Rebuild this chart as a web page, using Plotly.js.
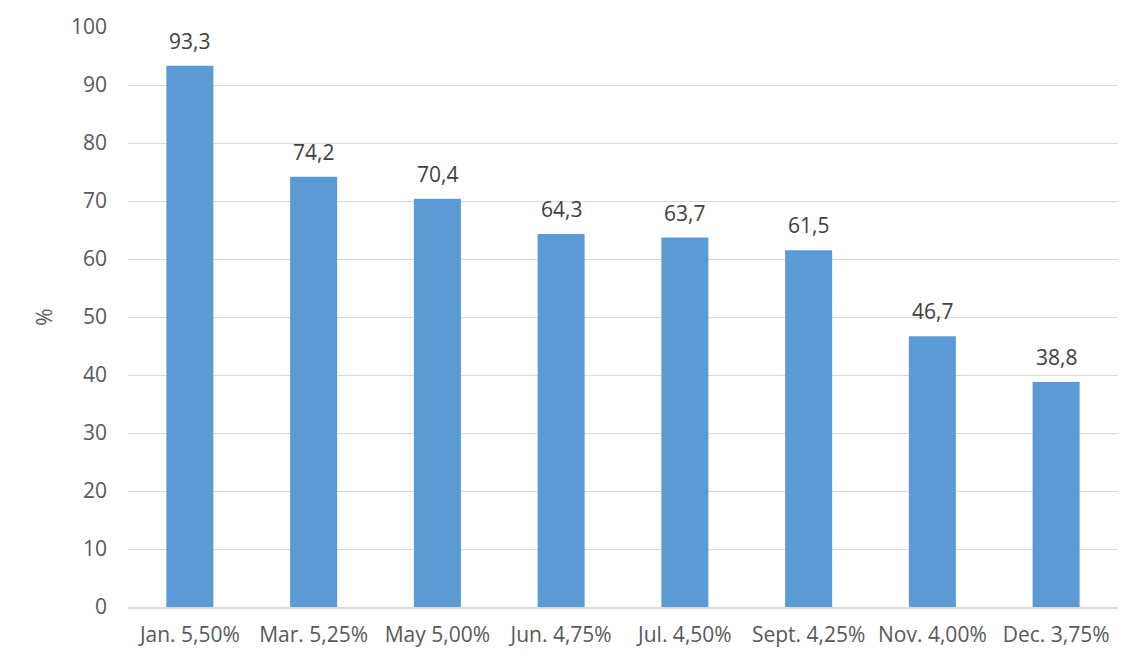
<!DOCTYPE html>
<html>
<head>
<meta charset="utf-8">
<script src="https://cdn.plot.ly/plotly-3.0.1.min.js"></script>
<style>html,body{margin:0;padding:0;background:#fff;}#chart{width:1144px;height:667px;}</style>
</head>
<body>
<div id="chart"></div>
<script>
const categories = ["Jan. 5,50%", "Mar. 5,25%", "May 5,00%", "Jun. 4,75%", "Jul. 4,50%", "Sept. 4,25%", "Nov. 4,00%", "Dec. 3,75%"];
const values = [93.3, 74.2, 70.4, 64.3, 63.7, 61.5, 46.7, 38.8];
const valueLabels = values.map(v => v.toFixed(1).replace('.', ','));
const yTicks = [0, 10, 20, 30, 40, 50, 60, 70, 80, 90, 100];

const font = {family: "'Open Sans', sans-serif", size: 21, color: "#595959"};

const annotations = categories.map((c, i) => ({
  x: c, y: values[i], text: valueLabels[i], showarrow: false,
  xanchor: 'center', yanchor: 'bottom', yshift: 9,
  font: {family: font.family, size: 21, color: '#404040'}
}));

Plotly.newPlot('chart', [{
  type: 'bar',
  x: categories,
  y: values,
  marker: {color: '#5B9BD5'},
  width: 0.38,
  hoverinfo: 'none'
}], {
  width: 1144, height: 667,
  margin: {l: 128, r: 26, t: 27, b: 60},
  paper_bgcolor: '#fff', plot_bgcolor: '#fff',
  font: font,
  showlegend: false,
  annotations: annotations,
  xaxis: {
    showgrid: false, showline: true, linecolor: '#D9D9D9', linewidth: 2,
    ticks: '', tickfont: font, automargin: false, ticklabelstandoff: 8
  },
  yaxis: {
    range: [0, 100], tickvals: yTicks, ticktext: yTicks.map(String),
    showgrid: true, gridcolor: '#D9D9D9', gridwidth: 1,
    zeroline: false, showline: false, ticks: '', ticklen: 0,
    tickfont: font, automargin: false, ticklabelstandoff: 20,
    title: {text: '%', font: font, standoff: 12}
  }
}, {staticPlot: true});
</script>
</body>
</html>
